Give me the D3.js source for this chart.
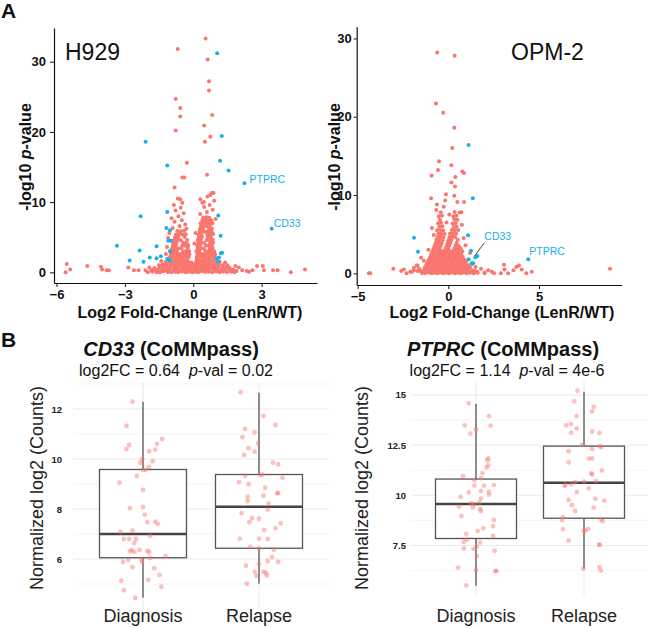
<!DOCTYPE html>
<html><head><meta charset="utf-8">
<script src="https://cdn.jsdelivr.net/npm/d3@7"></script>
<style>body{margin:0;background:#fff}svg{display:block;font-family:"Liberation Sans",Arial,Helvetica,sans-serif}</style>
</head><body><svg id="c" width="648" height="628"></svg>
<script>
// ---------------- DATA ----------------
// Panel A, H929 volcano: [log2FC, -log10 p]
const h929Red = [
[-5.55,1.2],[-5.6,0.0],[-5.4,0.4],[-4.65,0.9],[-4.05,0.8],[-4.0,0.4],[-3.8,0.3],[-3.7,0.3],[-2.85,0.7],[-2.6,0.3],[-2.4,0.3],[-2.1,0.3],[-1.93,0.7],[-1.85,0.3],[-1.6,0.0],[-1.75,0.4],
[1.75,0.4],[1.9,0.2],[2.0,0.7],[2.15,0.3],[2.35,0.2],[2.6,0.3],[2.8,0.9],[3.05,0.9],[3.1,0.3],[3.5,0.3],[3.7,0.3],[4.28,0.0],[4.9,0.4],[1.85,0.9],[2.45,0.1],
[0.54,33.3],[-0.68,31.8],[0.63,30.3],[0.69,27.2],[0.69,25.9],[-0.77,24.7],[-0.57,23.4],[-0.57,22.2],[0.83,22.4],[-0.77,20.2],[0.48,20.9],[0.75,19.3],[0.51,18.6],[-0.28,15.6],[-0.48,13.5],[-0.4,13.5],[0.61,13.9],[-0.82,12.1],[0.89,11.3],[0.75,11.0],[-0.57,10.4],[0.31,10.4],[0.47,10.0],
[-1.62,0.1],[-1.45,0.0],[-1.3,0.15],[-1.12,0.05],[-0.97,0.0],[-0.8,0.1],[-0.66,0.0],[-0.5,0.12],[-0.34,0.02],[-0.2,0.1],[-0.05,0.0],[0.08,0.1],[0.22,0.0],[0.37,0.14],[0.52,0.03],[0.68,0.1],[0.83,0.0],[1.0,0.12],[1.15,0.02],[1.31,0.1],[1.48,0.0],[1.66,0.08],
[-1.55,0.38],[-1.38,0.45],[-1.2,0.35],[-1.05,0.42],[-0.88,0.36],[-0.72,0.44],[-0.57,0.37],[-0.42,0.45],[-0.27,0.35],[-0.12,0.43],[0.02,0.36],[0.15,0.45],[0.3,0.38],[0.45,0.42],[0.6,0.35],[0.76,0.46],[0.92,0.37],[1.07,0.43],[1.24,0.36],[1.4,0.44],[1.58,0.4],
[-1.48,0.72],[-1.3,0.8],[-1.14,0.7],[-0.99,0.78],[-0.83,0.72],[-0.68,0.8],[-0.52,0.7],[-0.38,0.77],[-0.24,0.73],[-0.1,0.8],[0.05,0.7],[0.19,0.78],[0.33,0.72],[0.48,0.8],[0.63,0.7],[0.8,0.76],[0.95,0.72],[1.1,0.8],[1.28,0.7],[1.45,0.78],
[-1.35,1.08],[-1.18,1.14],[-1.02,1.05],[-0.87,1.12],[-0.73,1.06],[-0.6,1.15],[-0.45,1.07],[-0.32,1.13],[-0.18,1.05],[-0.03,1.12],[0.1,1.06],[0.24,1.14],[0.38,1.05],[0.52,1.12],[0.66,1.07],[0.82,1.15],[0.97,1.06],[1.13,1.12],[1.3,1.05],
[-1.22,1.42],[-1.07,1.5],[-0.92,1.4],[-0.78,1.48],[-0.63,1.43],[-0.5,1.5],[-0.36,1.41],[-0.22,1.47],[-0.08,1.4],[0.12,1.45],[0.26,1.5],[0.4,1.42],[0.54,1.48],[0.69,1.4],[0.84,1.46],[1.0,1.42],[1.16,1.5],
[-1.1,1.78],[-0.95,1.85],[-0.8,1.76],[-0.67,1.84],[-0.53,1.78],[-0.4,1.86],[-0.26,1.77],[0.15,1.82],[0.29,1.76],[0.43,1.85],[0.57,1.78],[0.72,1.84],[0.87,1.76],[1.02,1.83],
[-1.8,0.1],[-1.7,0.6],[-2.0,0.0],[-1.5,1.0],[-1.4,1.6],[1.6,0.6],[1.5,1.0],[1.4,1.4],[1.8,0.0],[1.7,0.3],
[-1.02,2.2],[-0.88,2.25],[-0.74,2.18],[-0.6,2.24],[-0.47,2.2],[-0.33,2.26],[-0.2,2.18],
[-0.98,2.6],[-0.84,2.64],[-0.7,2.58],[-0.56,2.62],[-0.42,2.6],[-0.29,2.66],[-0.17,2.58],
[-1.0,3.0],[-0.86,3.04],[-0.72,2.98],[-0.45,2.97],[-0.31,3.05],[-0.18,3.0],
[-0.93,3.4],[-0.79,3.44],[-0.65,3.38],[-0.52,3.42],[-0.24,3.45],
[-0.9,3.8],[-0.76,3.84],[-0.48,3.82],[-0.35,3.8],[-0.22,3.85],
[-0.88,4.2],[-0.73,4.24],[-0.44,4.22],[-0.3,4.2],
[-0.84,4.6],[-0.7,4.64],[-0.55,4.58],[-0.27,4.6],
[-0.8,5.0],[-0.66,5.04],[-0.38,5.02],
[-0.76,5.4],[-0.62,5.44],[-0.47,5.38],[-0.33,5.42],
[-0.7,5.9],[-0.55,5.85],[-0.4,5.92],
[-0.9,6.3],[-0.6,6.6],[-0.35,6.8],[-0.82,7.2],[-0.5,7.4],[-0.95,7.7],[-0.65,8.0],[-0.42,8.4],[-0.78,8.8],[-0.55,9.2],[-0.85,9.6],[-0.48,9.9],[-0.68,10.5],[-0.3,6.2],[-1.05,5.6],[-1.1,4.9],[-1.15,3.6],[-1.2,2.6],
[0.15,2.2],[0.28,2.25],[0.41,2.18],[0.54,2.24],[0.67,2.2],[0.8,2.26],[0.93,2.18],
[0.18,2.6],[0.31,2.64],[0.44,2.58],[0.57,2.62],[0.7,2.6],[0.83,2.66],[0.96,2.58],
[0.14,3.0],[0.27,3.04],[0.53,3.03],[0.66,2.97],[0.79,3.05],[0.92,3.0],
[0.2,3.4],[0.33,3.44],[0.46,3.38],[0.72,3.4],[0.85,3.45],
[0.17,3.8],[0.3,3.84],[0.56,3.82],[0.69,3.8],[0.82,3.85],
[0.22,4.2],[0.35,4.24],[0.48,4.18],[0.74,4.2],[0.87,4.25],
[0.2,4.6],[0.33,4.64],[0.59,4.62],[0.72,4.6],[0.85,4.65],
[0.25,5.0],[0.38,5.04],[0.64,5.02],[0.77,5.0],
[0.23,5.4],[0.36,5.44],[0.62,5.42],[0.75,5.4],[0.88,5.45],
[0.28,5.8],[0.41,5.84],[0.54,5.78],[0.67,5.82],[0.8,5.8],
[0.3,6.2],[0.43,6.24],[0.69,6.22],[0.82,6.2],
[0.34,6.6],[0.47,6.64],[0.6,6.58],[0.73,6.62],
[0.32,7.0],[0.45,7.04],[0.58,6.98],[0.71,7.02],[0.84,7.0],
[0.4,7.4],[0.53,7.44],[0.66,7.38],[0.79,7.42],
[0.44,7.8],[0.57,7.84],[0.7,7.78],
[0.3,8.3],[0.6,8.6],[0.85,8.9],[0.48,9.3],[0.72,9.6],[0.92,10.2],[0.62,10.8],[0.82,11.3],[0.4,9.9],[0.98,7.6],[0.1,5.6],[0.05,4.1]
];
const h929Blue = [
[1.05,31.2],[1.25,19.4],[-2.09,18.6],[1.18,15.9],[-1.14,15.2],[1.55,14.5],[-1.14,8.6],[-2.31,8.0],[1.10,8.1],[-1.18,6.3],[-1.02,6.0],[1.2,5.2],[-1.1,4.5],[-0.98,4.5],[-3.35,3.8],[-1.61,3.7],[-2.35,3.1],[-1.02,3.0],[1.21,2.7],[1.27,2.8],[-2.79,1.7],[-1.91,2.1],[-2.18,1.5],[-1.61,2.0],[-1.42,2.3],[-1.14,1.9],[-1.02,1.7],[1.13,2.1],[1.04,2.0],[1.1,1.5]
];
const h929Labels = [{gene:"PTPRC", fc:2.25, p:12.7}, {gene:"CD33", fc:3.44, p:6.2}];

// Panel A, OPM-2 volcano
const opmRed = [
[-0.61,28.2],[0.35,27.8],[-0.68,21.7],[-0.28,20.5],[0.33,18.6],[0.22,16.0],[-0.51,14.3],[-0.57,13.2],[0.17,13.8],[0.77,13.0],[0.86,12.8],[-0.92,12.5],[0.39,12.3],[0.17,11.6],[0.37,11.1],[-0.13,10.1],[-0.95,9.6],[0.33,9.9],[-0.17,9.3],[0.5,9.1],[0.87,9.1],[-0.63,8.8],[-0.66,8.1],[0.72,7.8],
[-4.38,0.0],[-4.3,0.0],[-3.03,0.6],[-2.6,0.3],[-2.45,0.5],[-2.3,0.0],[-1.74,1.0],[-1.7,0.3],[-1.55,0.3],[8.92,0.6],[1.46,0.3],[1.6,0.2],[2.0,0.0],[2.4,0.2],[2.52,0.0],[2.2,0.4],[3.07,1.1],[3.1,0.5],[2.9,0.0],[3.3,0.0],[3.59,0.4],[3.75,0.8],[3.9,1.0],[4.05,0.5],[4.3,0.0],[4.6,0.2],[-2.0,0.2],[-1.9,0.7],
[-1.45,0.05],[-1.28,0.0],[-1.1,0.1],[-0.93,0.02],[-0.76,0.08],[-0.6,0.0],[-0.44,0.1],[-0.28,0.02],[-0.12,0.08],[0.04,0.0],[0.2,0.1],[0.36,0.02],[0.52,0.08],[0.68,0.0],[0.85,0.1],[1.02,0.02],[1.2,0.08],[1.4,0.0],[1.62,0.06],
[-1.38,0.35],[-1.2,0.4],[-1.03,0.32],[-0.86,0.38],[-0.7,0.34],[-0.53,0.4],[-0.37,0.33],[-0.21,0.38],[-0.05,0.35],[0.11,0.4],[0.27,0.32],[0.43,0.38],[0.6,0.34],[0.77,0.4],[0.94,0.33],[1.12,0.38],[1.32,0.35],
[-1.3,0.7],[-1.13,0.75],[-0.96,0.68],[-0.79,0.74],[-0.63,0.7],[-0.47,0.76],[-0.31,0.68],[-0.15,0.74],[0.01,0.7],[0.17,0.76],[0.33,0.68],[0.5,0.74],[0.67,0.7],[0.84,0.75],[1.02,0.68],[1.2,0.73],
[-1.22,1.05],[-1.05,1.1],[-0.88,1.02],[-0.72,1.08],[-0.56,1.04],[-0.4,1.1],[-0.24,1.03],[-0.08,1.08],[0.08,1.04],[0.24,1.1],[0.4,1.02],[0.57,1.08],[0.74,1.05],[0.91,1.1],[1.08,1.03],
[-1.15,1.4],[-0.98,1.45],[-0.81,1.38],[-0.65,1.44],[-0.49,1.4],[-0.33,1.46],[-0.17,1.38],[-0.01,1.44],[0.15,1.4],[0.31,1.46],[0.48,1.38],[0.65,1.44],[0.82,1.4],[0.99,1.45],
[-1.08,1.75],[-0.91,1.8],[-0.74,1.72],[-0.58,1.78],[-0.42,1.74],[-0.26,1.8],[-0.1,1.73],[0.06,1.78],[0.22,1.74],[0.38,1.8],[0.55,1.72],[0.72,1.78],[0.9,1.75],
[-1.0,2.1],[-0.84,2.15],[-0.67,2.08],[-0.51,2.14],[-0.35,2.1],[-0.19,2.16],[-0.03,2.08],[0.13,2.14],[0.29,2.1],[0.45,2.15],[0.62,2.08],[0.8,2.13],
[-0.94,2.45],[-0.77,2.5],[-0.6,2.43],[-0.44,2.48],[-0.28,2.44],[-0.12,2.5],[0.04,2.43],[0.2,2.48],[0.36,2.45],[0.53,2.5],[0.7,2.43],
[-0.88,2.8],[-0.71,2.85],[-0.54,2.78],[-0.38,2.84],[-0.22,2.8],[-0.06,2.86],[0.1,2.78],[0.26,2.84],[0.43,2.8],[0.6,2.85],[0.78,2.78],
[-0.82,3.15],[-0.65,3.2],[-0.48,3.13],[-0.16,3.14],[0.0,3.2],[0.33,3.18],[0.5,3.15],[0.68,3.2],
[-0.76,3.5],[-0.59,3.55],[-0.42,3.48],[-0.1,3.5],[0.06,3.56],[0.4,3.54],[0.57,3.5],
[-0.7,3.85],[-0.53,3.9],[-0.37,3.83],[-0.04,3.84],[0.12,3.9],[0.46,3.88],
[-0.66,4.25],[-0.49,4.3],[-0.32,4.22],[0.0,4.24],[0.17,4.3],[0.52,4.28],
[-0.6,4.65],[-0.43,4.7],[-0.27,4.62],[0.06,4.64],[0.22,4.7],[0.38,4.63],
[-0.55,5.05],[-0.38,5.1],[-0.2,5.02],[0.1,5.08],[0.26,5.04],[0.43,5.1],
[-0.62,5.5],[-0.45,5.55],[-0.28,5.48],[0.2,5.54],[0.36,5.5],[0.55,5.55],
[-0.5,5.95],[-0.33,6.0],[0.3,5.93],[0.45,5.98],
[-0.56,6.4],[-0.4,6.45],[0.24,6.38],[0.4,6.44],
[-0.46,6.85],[0.33,6.9],[0.5,6.83],
[-0.52,7.3],[-0.35,7.35],[0.28,7.28],[0.45,7.34],
[-0.42,7.8],[0.35,7.84],[0.62,7.76],
[-1.7,1.0],[-1.9,0.4],[-2.1,0.2],[1.8,0.6],[2.0,0.1],[-1.5,2.0],[1.2,2.6],[0.95,3.6],[-1.1,3.0],[0.85,4.5],[-0.9,5.8],[-0.8,4.9],[0.75,6.2],[-0.1,6.5],[0.05,7.5],[-0.25,8.5],[-1.35,1.6],[1.3,1.2],[1.5,0.8],[-1.6,0.6]
];
const opmBlue = [
[1.12,16.4],[1.35,9.6],[-1.89,4.55],[1.09,4.85],[-1.67,2.76],[1.25,2.9],[1.12,1.79],[1.6,2.2],[1.28,1.28],[1.37,1.28]
];
const opmLabels = [{gene:"CD33", fc:1.49, p:2.05}, {gene:"PTPRC", fc:4.41, p:1.79}];

const h929XTicks = [-6,-3,0,3], h929YTicks = [0,10,20,30];
const opmXTicks = [-5,0,5], opmYTicks = [0,10,20,30];

// Panel B: categories, box statistics, jittered samples [value, jitter (fraction of box width)]
const groups = ["Diagnosis","Relapse"];
const cd33Box = [
  {grp:"Diagnosis", lo:4.45, q1:6.05, med:7.0, q3:9.58, hi:12.29},
  {grp:"Relapse",   lo:5.01, q1:6.43, med:8.09, q3:9.38, hi:12.65}
];
const ptprcBox = [
  {grp:"Diagnosis", lo:5.49, q1:7.85, med:9.57, q3:10.81, hi:14.56},
  {grp:"Relapse",   lo:6.35, q1:8.86, med:10.63, q3:12.45, hi:15.16}
];
const cd33Diag = [[12.29,-0.12],[11.32,-0.19],[10.56,-0.16],[10.40,-0.19],[10.80,0.22],[10.60,0.16],[10.37,0.14],[10.31,0.07],[9.99,-0.01],[9.85,-0.03],[9.91,0.11],[9.68,0.07],[9.56,0.00],[9.56,0.03],[9.32,-0.07],[9.05,-0.27],[8.76,0.00],[8.03,-0.15],[8.08,0.00],[7.77,0.02],[7.47,0.05],[7.49,0.14],[7.40,0.17],[7.08,-0.26],[7.13,-0.12],[6.92,0.08],[6.80,-0.22],[6.80,-0.16],[6.81,-0.08],[6.64,-0.10],[6.35,-0.13],[6.31,-0.15],[6.28,-0.10],[6.36,-0.04],[6.33,0.05],[6.27,0.07],[6.11,0.26],[6.04,0.08],[5.96,-0.02],[5.89,-0.01],[5.96,-0.17],[5.88,-0.23],[5.67,-0.12],[5.63,0.13],[5.36,0.19],[5.16,0.06],[5.13,-0.25],[4.89,0.21],[4.75,-0.22],[4.45,-0.09]];
const cd33Rel = [[12.67,-0.21],[11.72,0.05],[11.36,0.19],[11.20,-0.16],[11.07,-0.05],[10.87,-0.19],[10.63,-0.01],[10.43,-0.12],[10.29,-0.05],[10.16,-0.17],[9.85,0.16],[9.79,0.22],[9.33,-0.16],[9.36,0.01],[9.37,0.04],[9.25,0.27],[9.07,-0.23],[8.99,-0.12],[8.85,0.07],[8.63,0.21],[8.64,0.22],[8.49,-0.13],[8.53,0.05],[8.32,-0.13],[8.21,0.11],[7.97,0.10],[7.84,-0.20],[7.63,-0.08],[7.61,0.00],[7.47,-0.11],[7.43,0.25],[7.23,0.19],[7.16,0.06],[6.81,-0.22],[6.81,0.00],[6.80,0.10],[6.49,-0.10],[6.43,0.00],[6.37,0.17],[6.08,0.15],[5.88,0.22],[5.92,0.10],[5.79,0.00],[5.73,-0.15],[5.49,-0.05],[5.49,0.05],[5.45,0.08],[5.32,-0.03],[5.35,0.09],[5.01,-0.14]];
const ptprcDiag = [[14.58,-0.09],[13.95,0.16],[13.48,-0.14],[13.47,0.18],[13.28,0.00],[13.07,-0.07],[11.84,0.15],[11.74,0.14],[11.49,0.15],[11.38,0.13],[11.11,0.08],[10.95,-0.16],[10.85,0.06],[10.75,-0.02],[10.48,-0.02],[10.48,0.10],[10.51,0.22],[10.15,-0.09],[10.21,0.06],[10.18,0.16],[10.03,0.16],[9.92,-0.19],[9.84,0.06],[9.60,-0.06],[9.55,-0.02],[9.64,0.04],[9.44,-0.21],[9.39,-0.04],[9.32,0.05],[9.22,0.06],[8.96,-0.18],[8.77,0.22],[8.46,0.21],[8.22,0.02],[8.37,0.09],[8.08,-0.12],[7.98,0.21],[7.80,-0.11],[7.68,-0.15],[7.65,0.05],[7.45,0.01],[7.35,-0.15],[7.33,-0.03],[7.23,0.23],[6.98,0.01],[6.40,-0.22],[6.27,0.00],[6.22,0.24],[6.23,0.25],[5.51,-0.12]];
const ptprcRel = [[15.21,-0.08],[14.68,-0.12],[14.41,0.12],[14.18,0.10],[13.95,-0.09],[13.55,-0.16],[13.48,-0.22],[13.33,-0.09],[13.12,-0.16],[13.18,0.10],[13.10,0.19],[12.52,-0.02],[12.45,0.20],[12.39,0.21],[12.20,-0.19],[12.30,0.10],[11.83,0.06],[11.83,0.10],[11.64,-0.19],[11.24,0.22],[11.09,0.09],[11.04,0.10],[10.71,0.15],[10.68,0.00],[10.66,-0.11],[10.53,-0.23],[10.46,-0.24],[10.55,-0.16],[10.35,0.06],[10.16,-0.09],[9.84,0.14],[9.74,0.25],[9.77,-0.19],[9.52,-0.15],[9.39,0.12],[9.22,-0.11],[8.91,-0.26],[8.77,-0.27],[8.81,0.21],[8.71,0.23],[8.32,-0.26],[8.32,0.05],[8.26,0.01],[8.21,0.00],[7.75,-0.19],[7.53,0.19],[7.54,0.19],[6.35,-0.01],[6.42,0.19],[6.25,0.21]];
const cd33YTicks = [6,8,10,12], cd33Minor = [5,7,9,11,13];
const ptprcYTicks = [7.5,10,12.5,15], ptprcMinor = [6.25,8.75,11.25,13.75];

// ---------------- DRAWING ----------------
const RED = "#F8766D", BLUE = "#15B1EA";
const svg = d3.select("#c");

function volcano(cfg){
  const x = d3.scaleLinear().domain(cfg.xd).range(cfg.xr);
  const y = d3.scaleLinear().domain(cfg.yd).range(cfg.yr);
  const g = svg.append("g");
  g.append("g").selectAll("circle").data(cfg.red).join("circle")
    .attr("cx", d => x(d[0])).attr("cy", d => y(d[1])).attr("r", 2.0).attr("fill", RED);
  g.append("g").selectAll("circle").data(cfg.blue.concat(cfg.labels.map(l => [l.fc, l.p]))).join("circle")
    .attr("cx", d => x(d[0])).attr("cy", d => y(d[1])).attr("r", 2.0).attr("fill", BLUE);
  cfg.labels.forEach((l, i) => {
    const o = cfg.offs[i];
    const px = x(l.fc), py = y(l.p);
    if (o.line) g.append("line").attr("x1", px - 0.5).attr("y1", py - 1.5).attr("x2", px + o.dx).attr("y2", py + o.dy + 6)
      .attr("stroke", "#333").attr("stroke-width", 0.9);
    g.append("text").attr("x", px + o.dx).attr("y", py + o.dy).attr("dy", "0.35em")
      .attr("font-size", 10.5).attr("fill", BLUE).text(l.gene);
  });
  const ax = g.append("g").attr("transform", `translate(0,${cfg.yr[0]})`)
    .call(d3.axisBottom(x).tickValues(cfg.xt).tickSize(4).tickSizeOuter(0).tickPadding(3));
  const ay = g.append("g").attr("transform", `translate(${cfg.xr[0]},0)`)
    .call(d3.axisLeft(y).tickValues(cfg.yt).tickSize(cfg.ytick).tickSizeOuter(0).tickPadding(cfg.ypad));
  [ax, ay].forEach(a => {
    a.select(".domain").attr("stroke", "#111").attr("stroke-width", 1.2);
    a.selectAll(".tick line").attr("stroke", "#111").attr("stroke-width", 1);
    a.selectAll(".tick text").attr("font-size", 13).attr("font-weight", "bold").attr("fill", "#111")
      .attr("font-family", '"Liberation Sans",Arial,sans-serif');
  });
  g.append("text").attr("x", cfg.titleX).attr("y", 60).attr("font-size", 23).attr("fill", "#111").text(cfg.title);
  const yl = g.append("text").attr("transform", `translate(${cfg.ylx},157) rotate(-90)`).attr("text-anchor", "middle")
    .attr("dy", "0.35em").attr("font-size", 16).attr("font-weight", "bold").attr("fill", "#111");
  yl.append("tspan").text("-log10 ");
  yl.append("tspan").attr("font-style", "italic").text("p");
  yl.append("tspan").text("-value");
  g.append("text").attr("x", cfg.xlx).attr("y", 312).attr("dy", "0.35em").attr("text-anchor", "middle")
    .attr("font-size", 16).attr("font-weight", "bold").attr("fill", "#111").text("Log2 Fold-Change (LenR/WT)");
}

volcano({red: h929Red, blue: h929Blue, labels: h929Labels,
  offs: [{dx: 5, dy: -4}, {dx: 2, dy: -5}],
  xd: [-6.11, 5.43], xr: [54, 317], yd: [-1.52, 34.8], yr: [283, 28],
  xt: h929XTicks, yt: h929YTicks, ytick: 4, ypad: 4,
  title: "H929", titleX: 65, ylx: 25, xlx: 190});
volcano({red: opmRed, blue: opmBlue, labels: opmLabels,
  offs: [{dx: 9, dy: -20.5, line: true}, {dx: 1, dy: -7.5}],
  xd: [-5.05, 9.56], xr: [356.7, 621.7], yd: [-1.49, 31.5], yr: [285, 26.7],
  xt: opmXTicks, yt: opmYTicks, ytick: 3, ypad: 2,
  title: "OPM-2", titleX: 511, ylx: 334, xlx: 502});

function boxPanel(cfg){
  const x = d3.scalePoint().domain(groups).range(cfg.xr).padding(0.6);
  const y = d3.scaleLinear().domain(cfg.yd).range(cfg.yr);
  const bw = x.step() * 0.75;
  const g = svg.append("g");
  g.append("g").selectAll("line").data(cfg.minor).join("line")
    .attr("x1", cfg.xr[0]).attr("x2", cfg.xr[1]).attr("y1", d => y(d)).attr("y2", d => y(d))
    .attr("stroke", "#F3F3F3").attr("stroke-width", 0.8);
  g.append("g").selectAll("line").data(cfg.yt).join("line")
    .attr("x1", cfg.xr[0]).attr("x2", cfg.xr[1]).attr("y1", d => y(d)).attr("y2", d => y(d))
    .attr("stroke", "#E9E9E9").attr("stroke-width", 1);
  g.append("g").selectAll("line").data(groups).join("line")
    .attr("x1", d => x(d)).attr("x2", d => x(d)).attr("y1", cfg.yr[0]).attr("y2", cfg.yr[1])
    .attr("stroke", "#E9E9E9").attr("stroke-width", 1);
  const b = g.append("g").selectAll("g").data(cfg.box).join("g");
  b.append("line").attr("x1", d => x(d.grp)).attr("x2", d => x(d.grp)).attr("y1", d => y(d.hi)).attr("y2", d => y(d.q3))
    .attr("stroke", "#555").attr("stroke-width", 1.3);
  b.append("line").attr("x1", d => x(d.grp)).attr("x2", d => x(d.grp)).attr("y1", d => y(d.q1)).attr("y2", d => y(d.lo))
    .attr("stroke", "#555").attr("stroke-width", 1.3);
  b.append("rect").attr("x", d => x(d.grp) - bw / 2).attr("width", bw).attr("y", d => y(d.q3)).attr("height", d => y(d.q1) - y(d.q3))
    .attr("fill", "#fff").attr("stroke", "#555").attr("stroke-width", 1.3);
  b.append("line").attr("x1", d => x(d.grp) - bw / 2).attr("x2", d => x(d.grp) + bw / 2).attr("y1", d => y(d.med)).attr("y2", d => y(d.med))
    .attr("stroke", "#444").attr("stroke-width", 2.4);
  cfg.pts.forEach((arr, i) => {
    g.append("g").selectAll("circle").data(arr).join("circle")
      .attr("cx", d => x(groups[i]) + d[1] * bw).attr("cy", d => y(d[0])).attr("r", 2.4)
      .attr("fill", RED).attr("fill-opacity", 0.45);
  });
  const ay = g.append("g").attr("transform", `translate(${cfg.axX},0)`)
    .call(d3.axisLeft(y).tickValues(cfg.yt).tickSize(0).tickPadding(4).tickFormat(d3.format("")));
  ay.select(".domain").remove();
  ay.selectAll(".tick text").attr("font-size", 9.5).attr("font-weight", "bold").attr("fill", "#222")
    .attr("font-family", '"Liberation Sans",Arial,sans-serif');
  g.append("g").selectAll("text").data(groups).join("text")
    .attr("x", d => x(d)).attr("y", 622).attr("text-anchor", "middle").attr("font-size", 18).attr("fill", "#222").text(d => d);
  g.append("text").attr("transform", `translate(${cfg.ylx},488) rotate(-90)`).attr("text-anchor", "middle")
    .attr("dy", "0.35em").attr("font-size", 18).attr("fill", "#222").text("Normalized log2 (Counts)");
  const t = g.append("text").attr("x", cfg.tx).attr("y", 356).attr("text-anchor", "middle").attr("font-size", 20)
    .attr("font-weight", "bold").attr("fill", "#111");
  t.append("tspan").attr("font-style", "italic").text(cfg.gene);
  t.append("tspan").text(" (CoMMpass)");
  const s = g.append("text").attr("x", cfg.sx).attr("y", 376).attr("text-anchor", "middle").attr("font-size", 16).attr("fill", "#111");
  s.append("tspan").text(`log2FC = ${cfg.fc}\u00a0\u00a0`);
  s.append("tspan").attr("font-style", "italic").text("p");
  s.append("tspan").text(`-val = ${cfg.pv}`);
}

boxPanel({xr: [73.4, 328.6], yd: [4.04, 13.08], yr: [608, 382], yt: cd33YTicks, minor: cd33Minor,
  box: cd33Box, pts: [cd33Diag, cd33Rel], axX: 66, ylx: 37, tx: 171, sx: 176, gene: "CD33", fc: "0.64", pv: "0.02"});
boxPanel({xr: [411.2, 648.8], yd: [5.0, 15.7], yr: [595.7, 380.9], yt: ptprcYTicks, minor: ptprcMinor,
  box: ptprcBox, pts: [ptprcDiag, ptprcRel], axX: 410, ylx: 362, tx: 503, sx: 507, gene: "PTPRC", fc: "1.14", pv: "4e-6"});

svg.append("text").attr("x", 1).attr("y", 18).attr("font-size", 21).attr("font-weight", "bold").attr("fill", "#111").text("A");
svg.append("text").attr("x", 1).attr("y", 347).attr("font-size", 21).attr("font-weight", "bold").attr("fill", "#111").text("B");
</script></body></html>
